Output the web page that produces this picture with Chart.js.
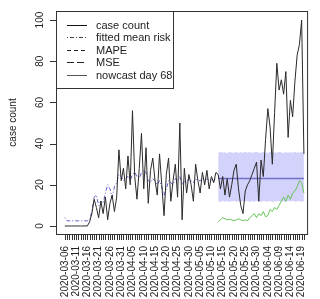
<!DOCTYPE html>
<html>
<head>
<meta charset="utf-8">
<script src="https://cdn.jsdelivr.net/npm/chart.js@4/dist/chart.umd.min.js"></script>
<style>
html, body { margin: 0; padding: 0; background: #fff; }
</style>
</head>
<body>
<canvas id="chart1" width="320" height="299"></canvas>
<script>
const chart1 = document.getElementById('chart1');

// tick labels, one every 5 days starting at day 0
const tickLabels = ['2020-03-06', '2020-03-11', '2020-03-16', '2020-03-21', '2020-03-26', '2020-03-31',
    '2020-04-05', '2020-04-10', '2020-04-15', '2020-04-20', '2020-04-25', '2020-04-30',
    '2020-05-05', '2020-05-10', '2020-05-15', '2020-05-20', '2020-05-25', '2020-05-30',
    '2020-06-04', '2020-06-09', '2020-06-14', '2020-06-19'];
const yTicks = [0, 20, 40, 60, 80, 100];

// daily case count, day 0 = 2020-03-06
const caseCount = [0, 0, 0, 0, 0, 0, 0, 0, 0, 0, 0,
    2, 6, 13, 9, 4, 12, 6, 14, 3, 11, 15, 7, 14,
    37, 22, 28, 18, 34, 20, 56, 24, 13, 28, 45, 18, 38, 11, 27, 33,
    22, 15, 35, 20, 5, 25, 33, 12, 22, 30, 14, 50, 3, 28, 16, 25,
    20, 12, 30, 22, 16, 26, 20, 27, 18, 24, 21, 26,
    25, 18, 24, 15, 23, 14, 20, 27, 30, 18, 10, 6, 17, 20, 22, 25,
    28, 31, 12, 32, 24, 42, 57, 48, 30, 55, 79, 66, 71, 64, 75, 43,
    61, 53, 70, 83, 88, 100, 35];

// fitted mean risk, days 0..67
const fittedRisk = [4, 2.5, 2.5, 2.5, 2.5, 2.5, 2.5, 2.5, 2.5, 2.5, 2.5,
    3, 7, 14, 15, 10, 12, 11, 16, 20, 18, 14, 19, 21,
    25, 24, 22, 23, 24, 22, 25, 26, 24, 23, 26, 27, 26, 22, 21, 23,
    22, 20, 22, 19, 15, 18, 22, 21, 20, 23, 22, 24, 20, 22, 21, 23,
    22, 21, 23, 22, 22, 23, 22, 23, 22, 23, 22, 23];

// nowcast from day 68 on
const nowcastStart = 68;
const nowcastMean = [23, 23, 23, 23, 23, 23, 23, 23, 23, 23, 23, 23, 23,
    23, 23, 23, 23, 23, 23, 23, 23, 23, 23, 23, 23, 23,
    23, 23, 23, 23, 23, 23, 23, 23, 23, 23, 23, 23, 23];
const bandUpper = [35.5, 36, 35.6, 35.8, 35.3, 36, 35.7, 35.5, 36, 35.4, 35.8, 35.6, 36,
    35.5, 35.9, 35.4, 35.8, 36, 35.6, 35.5, 35.9, 35.7, 35.4, 36, 35.6, 35.8,
    35.5, 36, 35.7, 35.4, 35.9, 35.6, 35.8, 35.5, 36, 35.6, 35.7, 35.9, 35.6];
const bandLower = [12, 11.6, 12.2, 11.8, 12.1, 11.7, 12, 12.3, 11.8, 12, 11.6, 12.1, 11.9,
    12.2, 11.7, 12, 11.8, 12.2, 11.9, 11.6, 12.1, 12, 11.8, 12.2, 11.7, 12,
    11.9, 12.2, 11.8, 12, 11.7, 12.1, 11.9, 12.2, 11.8, 12, 12.1, 11.8, 12];
const reportedCount = [2, 3, 4, 3.5, 3, 3.2, 3, 2.5, 3, 3.5, 3, 2.5, 3,
    2.5, 4, 5, 6, 4, 6, 5, 7, 4.5, 5, 8, 7, 9,
    8, 10, 12, 14, 12, 15, 13, 16, 17, 19, 22, 21, 16];

const legendLabels = ['case count', 'fitted mean risk', 'MAPE', 'MSE', 'nowcast day 68'];
const legendDash = [[], [1, 2, 4, 2], [4, 3], [7, 3], []];
const legendColor = ['#111', '#444', '#222', '#222', '#555'];

const FONT = '"Liberation Sans", Arial, sans-serif';

function toPoints(values, start) {
    return values.map(function (v, i) { return { x: start + i, y: v }; });
}

const days = [];
for (let i = 0; i < caseCount.length; i++) days.push(i);

// box, axes ticks, rotated y labels, axis title and legend, drawn like base R
const rPlot = {
    id: 'rPlot',
    afterDraw(chart) {
        const ctx = chart.ctx;
        const a = chart.chartArea;
        const x = chart.scales.x;
        const y = chart.scales.y;
        ctx.save();
        ctx.strokeStyle = '#333';
        ctx.lineWidth = 1;
        ctx.strokeRect(a.left + 0.5, a.top + 0.5, a.right - a.left, a.bottom - a.top);

        // x ticks, one per day
        ctx.beginPath();
        const x0 = Math.round(x.getPixelForValue(days[0])) + 0.5;
        const x1 = Math.round(x.getPixelForValue(days[days.length - 1])) + 0.5;
        ctx.moveTo(x0, a.bottom + 0.5);
        ctx.lineTo(x1, a.bottom + 0.5);
        days.forEach(function (d) {
            const px = Math.round(x.getPixelForValue(d)) + 0.5;
            ctx.moveTo(px, a.bottom);
            ctx.lineTo(px, a.bottom + 6);
        });
        // y ticks
        const y0 = Math.round(y.getPixelForValue(yTicks[0])) + 0.5;
        const y1 = Math.round(y.getPixelForValue(yTicks[yTicks.length - 1])) + 0.5;
        ctx.moveTo(a.left + 0.5, y0);
        ctx.lineTo(a.left + 0.5, y1);
        yTicks.forEach(function (t) {
            const py = Math.round(y.getPixelForValue(t)) + 0.5;
            ctx.moveTo(a.left - 6, py);
            ctx.lineTo(a.left, py);
        });
        ctx.stroke();

        ctx.fillStyle = '#222';
        ctx.font = '10px ' + FONT;
        ctx.textAlign = 'center';
        ctx.textBaseline = 'middle';
        yTicks.forEach(function (t) {
            ctx.save();
            ctx.translate(40, y.getPixelForValue(t));
            ctx.rotate(-Math.PI / 2);
            ctx.fillText(String(t), 0, 0);
            ctx.restore();
        });
        ctx.save();
        ctx.translate(13, (a.top + a.bottom) / 2);
        ctx.rotate(-Math.PI / 2);
        ctx.fillText('case count', 0, 0);
        ctx.restore();

        // legend
        const lx = a.left, ly = a.top, lw = 117, lh = 77;
        ctx.fillStyle = '#fff';
        ctx.fillRect(lx, ly, lw, lh);
        ctx.strokeStyle = '#333';
        ctx.strokeRect(lx + 0.5, ly + 0.5, lw, lh);
        ctx.font = '11px ' + FONT;
        ctx.textAlign = 'left';
        for (let i = 0; i < legendLabels.length; i++) {
            const ry = ly + 13.5 + i * 12.6;
            ctx.beginPath();
            ctx.setLineDash(legendDash[i]);
            ctx.strokeStyle = legendColor[i];
            ctx.moveTo(lx + 11, Math.round(ry) + 0.5);
            ctx.lineTo(lx + 31, Math.round(ry) + 0.5);
            ctx.stroke();
            ctx.setLineDash([]);
            ctx.fillStyle = '#222';
            ctx.fillText(legendLabels[i], lx + 40, ry + 1);
        }
        ctx.restore();
    }
};

new Chart(chart1, {
    type: 'line',
    data: {
        datasets: [
            {
                label: 'band upper',
                data: toPoints(bandUpper, nowcastStart),
                borderWidth: 0,
                backgroundColor: '#d2d2fb',
                fill: '+1',
                order: 5
            },
            {
                label: 'band lower',
                data: toPoints(bandLower, nowcastStart),
                borderWidth: 0,
                fill: false,
                order: 5
            },
            {
                label: 'nowcast',
                data: toPoints(nowcastMean, nowcastStart),
                borderColor: '#7070c8',
                borderWidth: 1.5,
                fill: false,
                order: 3
            },
            {
                label: 'fitted mean risk',
                data: toPoints(fittedRisk, 0),
                borderColor: '#5a5ac8',
                borderWidth: 1,
                borderDash: [1, 2, 4, 2],
                fill: false,
                order: 2
            },
            {
                label: 'reported',
                data: toPoints(reportedCount, nowcastStart),
                borderColor: '#66c455',
                borderWidth: 1,
                fill: false,
                order: 2
            },
            {
                label: 'case count',
                data: toPoints(caseCount, 0),
                borderColor: '#2a2a2a',
                borderWidth: 1,
                fill: false,
                order: 1
            }
        ]
    },
    options: {
        responsive: false,
        devicePixelRatio: 1,
        animation: false,
        layout: { padding: { top: 11, right: 7, left: 0, bottom: 0 } },
        elements: { point: { radius: 0 }, line: { tension: 0 } },
        plugins: { legend: { display: false }, tooltip: { enabled: false } },
        scales: {
            x: {
                type: 'linear',
                min: -3.9,
                max: 107.4,
                afterBuildTicks: function (s) { s.ticks = days.map(function (d) { return { value: d }; }); },
                afterFit: function (s) { s.height = 65; },
                grid: { display: false },
                border: { display: false },
                ticks: {
                    autoSkip: false,
                    minRotation: 90,
                    maxRotation: 90,
                    padding: 4,
                    color: '#222',
                    font: { size: 10, family: FONT },
                    callback: function (v) { return v % 5 === 0 ? tickLabels[v / 5] : ''; }
                }
            },
            y: {
                type: 'linear',
                min: -3.9,
                max: 104.4,
                afterBuildTicks: function (s) { s.ticks = yTicks.map(function (t) { return { value: t }; }); },
                afterFit: function (s) { s.width = 56; },
                grid: { display: false },
                border: { display: false },
                ticks: { display: false }
            }
        }
    },
    plugins: [rPlot]
});
</script>
</body>
</html>
